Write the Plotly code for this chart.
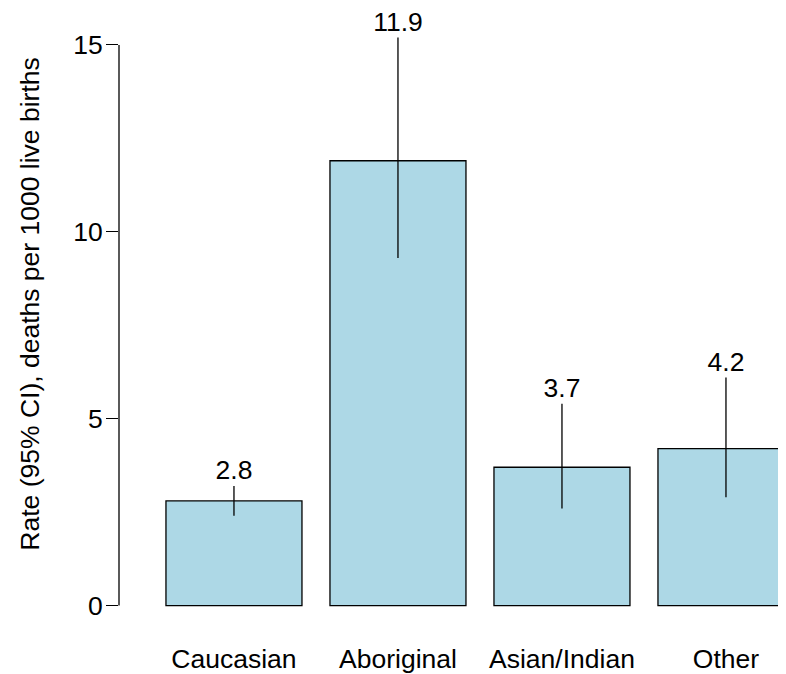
import plotly.graph_objects as go

categories = ["Caucasian", "Aboriginal", "Asian/Indian", "Other"]
rates = [2.8, 11.9, 3.7, 4.2]
ci_lower = [2.4, 9.3, 2.6, 2.9]
ci_upper = [3.2, 15.2, 5.4, 6.1]
y_ticks = [0, 5, 10, 15]
y_title = "Rate (95% CI), deaths per 1000 live births"

FONT = "Liberation Sans, Arial, Helvetica, sans-serif"
FS = 26.5

err_plus = [u - r for u, r in zip(ci_upper, rates)]
err_minus = [r - l for r, l in zip(rates, ci_lower)]

fig = go.Figure()
fig.add_trace(go.Bar(
    x=categories, y=rates,
    marker=dict(color="#ADD8E6", line=dict(color="black", width=1.3)),
    error_y=dict(type="data", array=err_plus, arrayminus=err_minus,
                 width=0, thickness=1.3, color="black", symmetric=False),
    showlegend=False, hoverinfo="skip",
))
fig.add_trace(go.Scatter(
    x=categories, y=ci_upper, mode="text",
    text=[f"{v:.1f}" for v in rates], textposition="top center",
    textfont=dict(size=FS, color="black", family=FONT),
    cliponaxis=False, showlegend=False, hoverinfo="skip",
))

# y axis line from 0 to 15 only (R style)
fig.add_shape(type="line", xref="paper", yref="y", x0=0, x1=0,
              y0=min(y_ticks), y1=max(y_ticks),
              line=dict(color="black", width=1.3))

fig.add_annotation(xref="paper", yref="y", x=0, y=8.05, xshift=-89,
                   xanchor="center", yanchor="middle",
                   text=y_title, textangle=-90, showarrow=False,
                   font=dict(size=FS, color="black", family=FONT))

fig.update_layout(
    width=778, height=666,
    margin=dict(l=111, r=0, t=0, b=43, pad=0),
    plot_bgcolor="white", paper_bgcolor="white",
    bargap=1 - 136 / 164,
    font=dict(family=FONT, size=FS, color="black"),
    xaxis=dict(range=[-0.701, 3.366], showline=False, showgrid=False,
               zeroline=False, ticks="", ticklabelstandoff=11,
               tickfont=dict(size=FS)),
    yaxis=dict(range=[-0.627, 15.987], tickvals=y_ticks, showline=False,
               showgrid=False, zeroline=False, ticks="outside", ticklen=12,
               tickwidth=1.3, tickcolor="black", ticklabelstandoff=-2,
               tickfont=dict(size=FS)),
)

fig.write_html("out.html")
